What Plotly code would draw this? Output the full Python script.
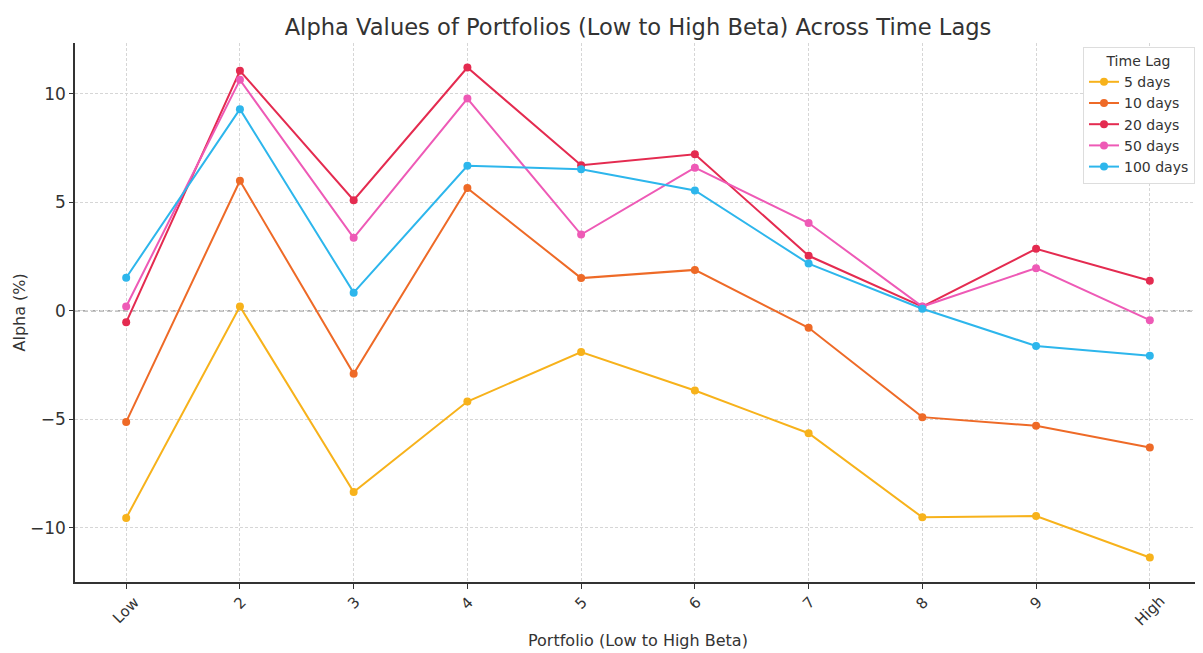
import plotly.graph_objects as go

portfolios = ["Low", "2", "3", "4", "5", "6", "7", "8", "9", "High"]
lag_names = ["5 days", "10 days", "20 days", "50 days", "100 days"]

alpha_5 = [-9.55, 0.2, -8.35, -4.18, -1.9, -3.67, -5.64, -9.52, -9.46, -11.37]
alpha_10 = [-5.12, 6.0, -2.9, 5.66, 1.51, 1.89, -0.78, -4.9, -5.3, -6.3]
alpha_20 = [-0.53, 11.07, 5.1, 11.22, 6.71, 7.22, 2.54, 0.19, 2.86, 1.39]
alpha_50 = [0.2, 10.65, 3.37, 9.79, 3.52, 6.6, 4.05, 0.2, 1.97, -0.43]
alpha_100 = [1.53, 9.3, 0.84, 6.69, 6.53, 5.55, 2.18, 0.1, -1.62, -2.07]

series = [alpha_5, alpha_10, alpha_20, alpha_50, alpha_100]
colors = ["#F7B21B", "#EE6A27", "#E42B50", "#EE5AB6", "#2DB6EC"]

# page body has an 8px margin; figure placed at (8, 8)
OFF = 8
W, H = 1203 - OFF, 653 - OFF
L, R, T, B = 75 - OFF, 2, 43 - OFF, 71
PW, PH = W - L - R, H - T - B

fig = go.Figure()
for name, vals, col in zip(lag_names, series, colors):
    fig.add_trace(go.Scatter(
        x=list(range(len(portfolios))), y=vals, name=name,
        mode="lines+markers",
        line=dict(color=col, width=2),
        marker=dict(color=col, size=8),
    ))

fig.add_shape(type="line", xref="paper", yref="y", x0=0, x1=1, y0=0, y1=0,
              line=dict(color="#8c8c8c", width=1.3, dash="5px,3px"), layer="below")

txt = "#333333"

# category labels, rotated 45 degrees and centred under each tick
tick_annotations = [
    dict(text=lab, xref="x", yref="paper", x=i, y=-(590 - 582) / PH,
         xanchor="center", yanchor="top", textangle=-45, showarrow=False,
         font=dict(size=15, color=txt))
    for i, lab in enumerate(portfolios)
]

fig.update_layout(
    width=W, height=H,
    margin=dict(l=L, r=R, t=T, b=B, autoexpand=False),
    paper_bgcolor="white", plot_bgcolor="white",
    font=dict(family="DejaVu Sans", color=txt, size=14),
    title=dict(text="Alpha Values of Portfolios (Low to High Beta) Across Time Lags",
               x=(638 - OFF) / W, xanchor="center", y=1 - (27 - OFF) / H, yanchor="middle",
               font=dict(size=22.6, color=txt)),
    legend=dict(
        title=dict(text="Time Lag", side="top center", font=dict(size=14)),
        x=(1195 - 75) / PW, xanchor="right", y=1 - (47 - 43) / PH, yanchor="top",
        bgcolor="white", bordercolor="#dddddd", borderwidth=1,
        font=dict(size=14),
        tracegroupgap=3,
    ),
    showlegend=True,
    annotations=tick_annotations + [
        dict(text="Portfolio (Low to High Beta)", xref="paper", yref="paper",
             x=0.5, y=-(640 - 582) / PH, xanchor="center", yanchor="middle",
             showarrow=False, font=dict(size=16, color=txt)),
        dict(text="Alpha (%)", xref="paper", yref="paper",
             x=-(75 - 19) / PW, y=0.5, xanchor="center", yanchor="middle",
             textangle=-90, showarrow=False, font=dict(size=16, color=txt)),
    ],
)

fig.update_xaxes(
    range=[-0.45, 9.45], automargin=False,
    tickmode="array", tickvals=list(range(len(portfolios))), ticktext=portfolios,
    showticklabels=False,
    showline=True, linecolor="#333333", linewidth=1.5,
    ticks="outside", ticklen=5, tickcolor="#333333",
    showgrid=True, gridcolor="#d6d6d6", griddash="3px,2px", gridwidth=1,
    zeroline=False,
)
fig.update_yaxes(
    range=[-12.5, 12.35], automargin=False,
    tickvals=[-10, -5, 0, 5, 10], ticktext=["\u221210", "\u22125", "0", "5", "10"],
    tickfont=dict(size=17, color=txt),
    showline=True, linecolor="#333333", linewidth=1.5,
    ticks="outside", ticklen=4, tickcolor="#333333",
    showgrid=True, gridcolor="#d6d6d6", griddash="3px,2px", gridwidth=1,
    zeroline=False,
)

fig.write_html("out.html")
